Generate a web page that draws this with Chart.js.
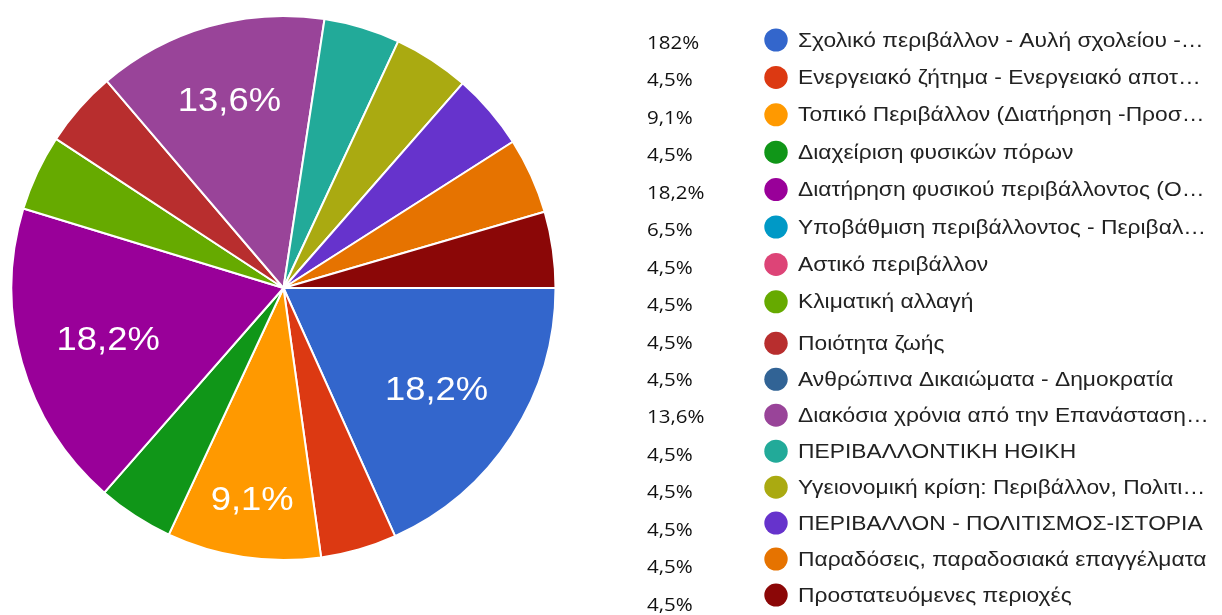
<!DOCTYPE html>
<html>
<head>
<meta charset="utf-8">
<script src="https://cdn.jsdelivr.net/npm/chart.js@4/dist/chart.umd.min.js"></script>
<style>
html,body{margin:0;padding:0;background:#fff;overflow:hidden;}
#wrap{position:relative;width:1222px;height:615px;}
</style>
</head>
<body>
<div id="wrap"><canvas id="c" width="1222" height="615"></canvas></div>
<script>
const categories = [
  "Σχολικό περιβάλλον - Αυλή σχολείου -…",
  "Ενεργειακό ζήτημα - Ενεργειακό αποτ…",
  "Τοπικό Περιβάλλον (Διατήρηση -Προσ…",
  "Διαχείριση φυσικών πόρων",
  "Διατήρηση φυσικού περιβάλλοντος (Ο…",
  "Υποβάθμιση περιβάλλοντος - Περιβαλ…",
  "Αστικό περιβάλλον",
  "Κλιματική αλλαγή",
  "Ποιότητα ζωής",
  "Ανθρώπινα Δικαιώματα - Δημοκρατία",
  "Διακόσια χρόνια από την Επανάσταση…",
  "ΠΕΡΙΒΑΛΛΟΝΤΙΚΗ ΗΘΙΚΗ",
  "Υγειονομική κρίση: Περιβάλλον, Πολιτι…",
  "ΠΕΡΙΒΑΛΛΟΝ - ΠΟΛΙΤΙΣΜΟΣ-ΙΣΤΟΡΙΑ",
  "Παραδόσεις, παραδοσιακά επαγγέλματα",
  "Προστατευόμενες περιοχές"
];
const values = [18.2, 4.5, 9.1, 4.5, 18.2, 0, 0, 4.5, 4.5, 0, 13.6, 4.5, 4.5, 4.5, 4.5, 4.5];
const percentLabels = ["182%", "4,5%", "9,1%", "4,5%", "18,2%", "6,5%", "4,5%", "4,5%", "4,5%", "4,5%", "13,6%", "4,5%", "4,5%", "4,5%", "4,5%", "4,5%"];
const colors = ["#3366cc", "#dc3912", "#ff9900", "#109618", "#990099", "#0099c6", "#dd4477", "#66aa00", "#b82e2e", "#316395", "#994499", "#22aa99", "#aaaa11", "#6633cc", "#e67300", "#8b0707"];

function stretchedText(ctx, text, x, y, sx) {
  ctx.save();
  ctx.translate(x, y);
  ctx.scale(sx, 1);
  ctx.fillText(text, 0, 0);
  ctx.restore();
}

const sliceLabels = {
  id: 'sliceLabels',
  afterDatasetsDraw(chart) {
    const ctx = chart.ctx;
    const meta = chart.getDatasetMeta(0);
    const total = values.reduce((s, v) => s + v, 0);
    ctx.save();
    ctx.fillStyle = '#ffffff';
    ctx.font = '34px "Liberation Sans", Arial, sans-serif';
    ctx.textAlign = 'center';
    ctx.textBaseline = 'alphabetic';
    meta.data.forEach((arc, i) => {
      const v = values[i];
      if (v < 9) return;
      const frac = v / total;
      const a = (arc.startAngle + arc.endAngle) / 2;
      const r = arc.outerRadius * (0.67 + 1.2 * Math.max(0, 0.183 - frac));
      const x = arc.x + Math.cos(a) * r;
      const y = arc.y + Math.sin(a) * r;
      stretchedText(ctx, v.toFixed(1).replace('.', ',') + '%', x, y + 12.5, 1.07);
    });
    ctx.restore();
  }
};

const sideLegend = {
  id: 'sideLegend',
  afterDraw(chart) {
    const ctx = chart.ctx;
    ctx.save();
    ctx.textBaseline = 'middle';
    ctx.textAlign = 'left';
    ctx.fillStyle = '#111111';
    ctx.font = '19px "Open Sans", sans-serif';
    percentLabels.forEach((t, i) => {
      stretchedText(ctx, t, 647, 43.5 + i * 37.45, 1.08);
    });
    chart.data.labels.forEach((lab, i) => {
      const y = i < 8 ? 40 + i * 37.4 : 343.3 + (i - 8) * 35.96;
      ctx.beginPath();
      ctx.fillStyle = chart.data.datasets[0].backgroundColor[i];
      ctx.ellipse(776, y, 11.7, 11.5, 0, 0, Math.PI * 2);
      ctx.fill();
      ctx.fillStyle = '#222222';
      ctx.font = '20px "Liberation Sans", Arial, sans-serif';
      stretchedText(ctx, lab, 798, y + 1, 1.14);
    });
    ctx.restore();
  }
};

new Chart(document.getElementById('c'), {
  type: 'pie',
  data: {
    labels: categories,
    datasets: [{
      data: values,
      backgroundColor: colors,
      borderColor: '#ffffff',
      borderWidth: 2
    }]
  },
  options: {
    responsive: false,
    animation: false,
    rotation: 90,
    layout: { padding: { left: 10, right: 665, top: 15, bottom: 54 } },
    plugins: {
      legend: { display: false },
      tooltip: { enabled: false }
    }
  },
  plugins: [sliceLabels, sideLegend]
});
</script>
</body>
</html>
